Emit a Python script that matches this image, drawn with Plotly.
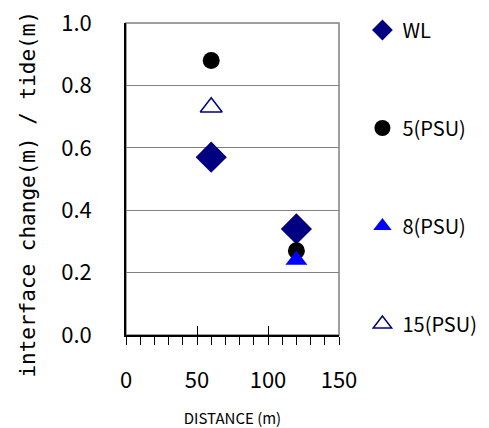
import plotly.graph_objects as go

# Data
x_wl = [60, 120]
y_wl = [0.57, 0.34]
x_5 = [60, 120]
y_5 = [0.88, 0.27]
x_8 = [120]
y_8 = [0.24]
x_15 = [60]
y_15 = [0.73]

x_ticks = [0, 50, 100, 150]
y_ticks = [0.0, 0.2, 0.4, 0.6, 0.8, 1.0]

NUM_FONT = "Noto Sans CJK JP, sans-serif"

fig = go.Figure()
fig.add_trace(go.Scatter(x=x_wl, y=y_wl, mode="markers", name="WL", legendgroup="a",
                         marker=dict(symbol="diamond", size=24, color="#000080")))
fig.add_trace(go.Scatter(x=x_5, y=y_5, mode="markers", name="5(PSU)", legendgroup="b",
                         marker=dict(symbol="circle", size=17, color="#000000")))
fig.add_trace(go.Scatter(x=x_8, y=y_8, mode="markers", name="8(PSU)", legendgroup="c",
                         marker=dict(symbol="triangle-up", size=19, color="#0000FF")))
fig.add_trace(go.Scatter(x=x_15, y=y_15, mode="markers", name="15(PSU)", legendgroup="d",
                         marker=dict(symbol="triangle-up-open", size=19, color="#000080",
                                     line=dict(width=1.5, color="#000080"))))
# invisible helper trace for the inside major ticks axis
fig.add_trace(go.Scatter(x=[None], y=[None], xaxis="x2", showlegend=False, hoverinfo="skip"))

fig.update_layout(
    width=489, height=428,
    margin=dict(l=126, r=150, t=23, b=93, autoexpand=False),
    paper_bgcolor="white", plot_bgcolor="white",
    showlegend=True,
    legend=dict(x=1.11, xanchor="left", y=1.04, yanchor="top",
                font=dict(family="Noto Sans CJK JP, sans-serif", size=20, color="black"),
                tracegroupgap=69, itemwidth=30, maxheight=420, bgcolor="rgba(0,0,0,0)"),
    xaxis=dict(range=[0, 150], tickvals=list(range(0, 151, 10)),
               ticktext=[str(v) if v in x_ticks else "" for v in range(0, 151, 10)],
               ticks="outside", ticklen=8, tickcolor="black", tickwidth=1,
               showline=True, linecolor="black", linewidth=1.5,
               showgrid=False, zeroline=False, automargin=False,
               tickfont=dict(family=NUM_FONT, size=22, color="black"),
               ticklabelstandoff=17,
               title=dict(text="DISTANCE (m)", standoff=20,
                          font=dict(family="Noto Sans CJK JP, sans-serif", size=15, color="black"))),
    xaxis2=dict(range=[0, 150], overlaying="x", anchor="y", side="bottom",
                tickvals=x_ticks, ticks="inside", ticklen=9, tickcolor="black",
                showticklabels=False, showgrid=False, zeroline=False, showline=False,
                automargin=False),
    yaxis=dict(range=[0, 1.0], tickvals=y_ticks, ticktext=[f"{v:.1f}" for v in y_ticks],
               ticks="", showline=True, linecolor="black", linewidth=1.5,
               showgrid=True, gridcolor="#808080", gridwidth=1, zeroline=False,
               automargin=False,
               tickfont=dict(family=NUM_FONT, size=22, color="black"),
               ticklabelstandoff=28),
    annotations=[dict(text="interface change(m) / tide(m)", textangle=-90,
                      xref="paper", yref="paper", x=-0.46, y=0.45,
                      xanchor="center", yanchor="middle", showarrow=False,
                      font=dict(family="DejaVu Sans Mono, monospace", size=21, color="black"))],
    shapes=[dict(type="rect", xref="paper", yref="paper", x0=0, x1=1, y0=0, y1=1,
                 line=dict(color="#808080", width=1.5), layer="below")],
)

fig.write_html("out.html")
